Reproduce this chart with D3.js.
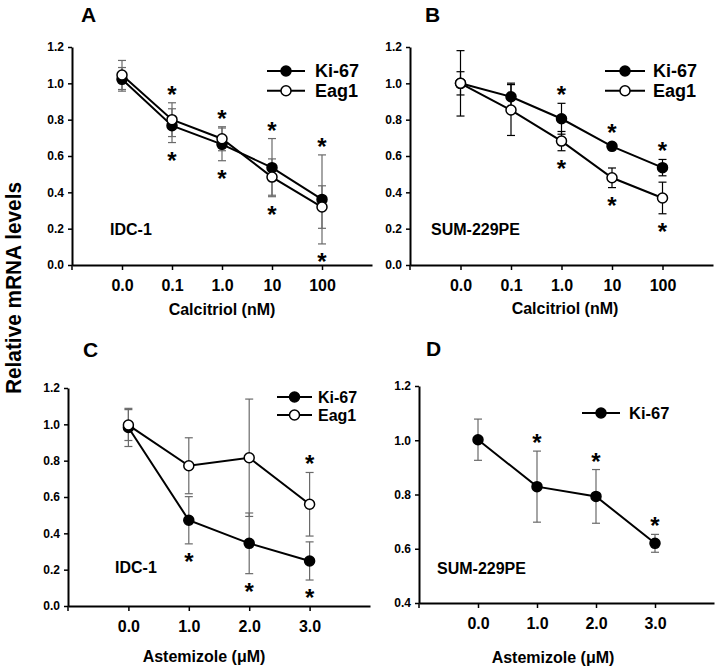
<!DOCTYPE html>
<html><head><meta charset="utf-8">
<script src="https://cdnjs.cloudflare.com/ajax/libs/d3/7.8.5/d3.min.js"></script>
<style>
body{margin:0;background:#fff;}
svg text{font-family:"Liberation Sans",Arial,sans-serif;font-weight:bold;fill:#000;}
</style></head>
<body><svg id="c" width="719" height="669"></svg>
<script>
// ---------- data ----------
const catsCalcitriol = ["0.0","0.1","1.0","10","100"];
const catsAstemizole = ["0.0","1.0","2.0","3.0"];
const yTicksFull = [0,0.2,0.4,0.6,0.8,1.0,1.2];
const yTicksD = [0.4,0.6,0.8,1.0,1.2];

const kiA = [1.022,0.767,0.664,0.536,0.361];
const kiAErr = [0.065,0.093,0.09,0.16,0.245];
const eagA = [1.046,0.800,0.695,0.484,0.319];
const eagAErr = [0.08,0.093,0.066,0.10,0.117];
const starsAboveA = [0,1,1,1,1];
const starsBelowA = [0,1,1,1,1];

const kiB = [1.0,0.926,0.805,0.653,0.536];
const kiBErr = [0.064,0.075,0.085,0.01,0.045];
const eagB = [1.0,0.853,0.682,0.480,0.369];
const eagBErr = [0.18,0.14,0.053,0.054,0.087];
const starsAboveB = [0,0,1,1,1];
const starsBelowB = [0,0,1,1,1];

const kiC = [0.983,0.472,0.345,0.248];
const kiCErr = [0.105,0.13,0.167,0.105];
const eagC = [0.996,0.772,0.816,0.560];
const eagCErr = [0.085,0.154,0.323,0.175];
const starsAboveC = [0,0,0,1];
const starsBelowC = [0,1,1,1];

const kiD = [1.002,0.829,0.793,0.620];
const kiDErr = [0.076,0.131,0.099,0.033];
const starsAboveD = [0,1,1,1];
const starsBelowD = [0,0,0,0];

// ---------- panels ----------
const panels = [
 {letter:"A", cats:catsCalcitriol, yDomain:[0,1.2], yTicks:yTicksFull,
  series:[{name:"Ki-67",vals:kiA,err:kiAErr,filled:true},{name:"Eag1",vals:eagA,err:eagAErr,filled:false}],
  above:starsAboveA, below:starsBelowA, cell:"IDC-1", xtitle:"Calcitriol (nM)", errColor:"#6a6a6a",
  x0:72,x1:372,yTop:47,yBot:265, letterPos:[81,22], leg:{x0:267,x1:305,tx:315,ys:[71,90.7],fs:18},
  cellPos:[110,235], titlePos:[222,315]},
 {letter:"B", cats:catsCalcitriol, yDomain:[0,1.2], yTicks:yTicksFull,
  series:[{name:"Ki-67",vals:kiB,err:kiBErr,filled:true},{name:"Eag1",vals:eagB,err:eagBErr,filled:false}],
  above:starsAboveB, below:starsBelowB, cell:"SUM-229PE", xtitle:"Calcitriol (nM)", errColor:"#000",
  x0:410,x1:713,yTop:47,yBot:265, letterPos:[425,22], leg:{x0:605,x1:645,tx:653,ys:[71,90.7],fs:18},
  cellPos:[431,235], titlePos:[565,314]},
 {letter:"C", cats:catsAstemizole, yDomain:[0,1.2], yTicks:yTicksFull,
  series:[{name:"Ki-67",vals:kiC,err:kiCErr,filled:true},{name:"Eag1",vals:eagC,err:eagCErr,filled:false}],
  above:starsAboveC, below:starsBelowC, cell:"IDC-1", xtitle:"Astemizole (\u03BCM)", errColor:"#6a6a6a",
  x0:68,x1:370,yTop:388,yBot:606, letterPos:[83,357], leg:{x0:277,x1:312,tx:318,ys:[397,415],fs:16},
  cellPos:[115,573], titlePos:[204,662]},
 {letter:"D", cats:catsAstemizole, yDomain:[0.4,1.2], yTicks:yTicksD,
  series:[{name:"Ki-67",vals:kiD,err:kiDErr,filled:true}],
  above:starsAboveD, below:starsBelowD, cell:"SUM-229PE", xtitle:"Astemizole (\u03BCM)", errColor:"#6a6a6a",
  x0:419,x1:714,yTop:386,yBot:603, letterPos:[426,356], leg:{x0:582,x1:620,tx:629,ys:[413],fs:16.5},
  cellPos:[437,574], titlePos:[553,663]}
];

const svg = d3.select("#c");
const R = 5;

svg.append("text").attr("transform","translate(21,288) rotate(-90)")
  .attr("text-anchor","middle").attr("textLength",212).attr("lengthAdjust","spacingAndGlyphs")
  .style("font-size","22px").text("Relative mRNA levels");

panels.forEach(p=>{
  const g = svg.append("g");
  const x = d3.scalePoint().domain(p.cats).range([p.x0,p.x1]).padding(1);
  const y = d3.scaleLinear().domain(p.yDomain).range([p.yBot,p.yTop]);

  // axes
  const ya = g.append("g").attr("transform",`translate(${p.x0},0)`)
    .call(d3.axisLeft(y).tickValues(p.yTicks).tickFormat(d3.format(".1f")).tickSize(4).tickSizeOuter(0).tickPadding(4));
  ya.select(".domain").attr("stroke-width",2);
  ya.selectAll(".tick line").attr("stroke-width",1.5);
  ya.selectAll("text").style("font-size","12px");

  const xa = g.append("g").attr("transform",`translate(0,${p.yBot})`)
    .call(d3.axisBottom(x).tickSize(5).tickSizeOuter(0).tickPadding(9.5));
  xa.select(".domain").attr("stroke-width",2);
  xa.selectAll(".tick line").attr("stroke-width",1.5);
  xa.selectAll("text").style("font-size","16px");
  xa.append("line").attr("x1",p.x0).attr("x2",p.x0).attr("y1",0).attr("y2",5).attr("stroke","#000").attr("stroke-width",1.5);

  // error bars
  p.series.forEach(s=>{
    const eb = g.append("g").attr("stroke",p.errColor).attr("stroke-width",1.2).attr("fill","none");
    p.cats.forEach((c,i)=>{
      const cx = x(c), t = y(s.vals[i]+s.err[i]), b = y(s.vals[i]-s.err[i]);
      eb.append("line").attr("x1",cx).attr("x2",cx).attr("y1",t).attr("y2",b);
      eb.append("line").attr("x1",cx-4).attr("x2",cx+4).attr("y1",t).attr("y2",t);
      eb.append("line").attr("x1",cx-4).attr("x2",cx+4).attr("y1",b).attr("y2",b);
    });
  });
  // lines
  p.series.forEach(s=>{
    const line = d3.line().x((d,i)=>x(p.cats[i])).y(d=>y(d));
    g.append("path").datum(s.vals).attr("d",line).attr("fill","none").attr("stroke","#000").attr("stroke-width",2);
  });
  // markers
  p.series.forEach(s=>{
    g.selectAll(null).data(s.vals).enter().append("circle")
      .attr("cx",(d,i)=>x(p.cats[i])).attr("cy",d=>y(d)).attr("r",R)
      .attr("fill",s.filled?"#000":"#fff").attr("stroke","#000").attr("stroke-width",1.5);
  });
  // asterisks
  p.cats.forEach((c,i)=>{
    const tops = p.series.map(s=>Math.min(y(s.vals[i]+s.err[i]), y(s.vals[i])-R));
    const bots = p.series.map(s=>Math.max(y(s.vals[i]-s.err[i]), y(s.vals[i])+R));
    if(p.above[i]){
      const cy = d3.min(tops)-13;
      g.append("text").attr("x",x(c)).attr("y",cy+13).attr("text-anchor","middle").style("font-size","24px").text("*");
    }
    if(p.below[i]){
      const cy = d3.max(bots)+13;
      g.append("text").attr("x",x(c)).attr("y",cy+13).attr("text-anchor","middle").style("font-size","24px").text("*");
    }
  });
  // legend
  p.series.forEach((s,k)=>{
    const ly = p.leg.ys[k];
    g.append("line").attr("x1",p.leg.x0).attr("x2",p.leg.x1).attr("y1",ly).attr("y2",ly).attr("stroke","#000").attr("stroke-width",2);
    g.append("circle").attr("cx",(p.leg.x0+p.leg.x1)/2).attr("cy",ly).attr("r",R)
      .attr("fill",s.filled?"#000":"#fff").attr("stroke","#000").attr("stroke-width",1.5);
    g.append("text").attr("x",p.leg.tx).attr("y",ly).attr("dy","0.36em").style("font-size",p.leg.fs+"px").text(s.name);
  });
  // labels
  g.append("text").attr("x",p.letterPos[0]).attr("y",p.letterPos[1]).style("font-size","21px").text(p.letter);
  g.append("text").attr("x",p.cellPos[0]).attr("y",p.cellPos[1]).style("font-size","16px").text(p.cell);
  g.append("text").attr("x",p.titlePos[0]).attr("y",p.titlePos[1]).attr("text-anchor","middle").style("font-size","16px").text(p.xtitle);
});
</script></body></html>
